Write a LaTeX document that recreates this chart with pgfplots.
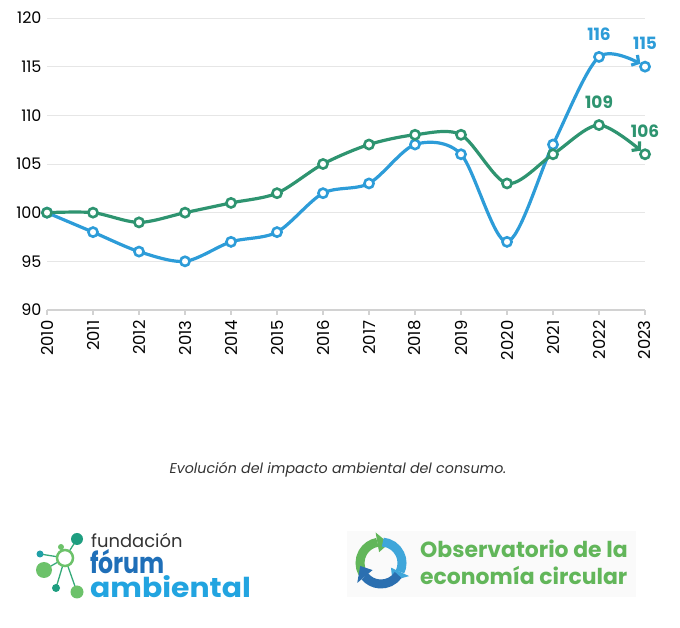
\documentclass[border=0pt]{standalone}
\usepackage{pgfplots}
\pgfplotsset{compat=1.18}
\usepackage{fontspec}
\setmainfont{Poppins}
\usetikzlibrary{arrows.meta}
\definecolor{cblue}{HTML}{2D9CD8}
\definecolor{cgreen}{HTML}{2E9470}
\definecolor{gridgray}{HTML}{E6E6E6}
\definecolor{axgray}{HTML}{D2D2D2}
\definecolor{fdark}{HTML}{333333}
\definecolor{fblue}{HTML}{1F6FB8}
\definecolor{flight}{HTML}{22A4E0}
\definecolor{fgreen}{HTML}{6CC26A}
\definecolor{fteal}{HTML}{1E9E80}
\definecolor{ogreen}{HTML}{62B65A}
\definecolor{oblue}{HTML}{2B6FB0}
\definecolor{olight}{HTML}{3FA6DA}
\begin{document}
\begin{tikzpicture}[x=1bp,y=1bp]
\useasboundingbox (0,0) rectangle (680,628);
\begin{axis}[
  at={(47bp,318bp)}, anchor=south west, scale only axis,
  width=598bp, height=292bp,
  xmin=2010, xmax=2023, ymin=90, ymax=120,
  xtick={2010,...,2023}, ytick={90,95,...,120},
  ymajorgrids, grid style={draw=gridgray, line width=0.9bp},
  axis x line*=bottom, axis y line*=left,
  x axis line style={-, draw=axgray, line width=1.3bp},
  y axis line style={draw=none},
  ytick style={draw=none},
  xtick style={draw=axgray, line width=1.2bp},
  xtick align=outside, major tick length=5bp,
  /pgf/number format/assume math mode=true,
  xticklabel style={/pgf/number format/1000 sep={}, rotate=90, anchor=east, font=\fontsize{16.5}{16.5}\selectfont, xshift=-2bp},
  yticklabel style={font=\fontsize{16}{16}\selectfont, anchor=east, xshift=-2bp},
  clip=false,
]
\addplot[cblue, line width=3.2bp, smooth, tension=0.5,
  mark=*, mark size=4.6bp, mark options={fill=white, draw=cblue, line width=2.6bp},
  -{Straight Barb[length=5bp,width=12bp]}, shorten >=5.5bp]
  coordinates {(2010,100)(2011,98)(2012,96)(2013,95)(2014,97)(2015,98)(2016,102)(2017,103)(2018,107)(2019,106)(2020,97)(2021,107)(2022,116)(2023,115)};
\addplot[cgreen, line width=3.2bp, smooth, tension=0.5,
  mark=*, mark size=4.6bp, mark options={fill=white, draw=cgreen, line width=2.6bp},
  -{Straight Barb[length=5bp,width=12bp]}, shorten >=5.5bp]
  coordinates {(2010,100)(2011,100)(2012,99)(2013,100)(2014,101)(2015,102)(2016,105)(2017,107)(2018,108)(2019,108)(2020,103)(2021,106)(2022,109)(2023,106)};
\node[cblue, font=\fontsize{17}{17}\selectfont\bfseries] at (axis cs:2022,116) [yshift=23bp] {116};
\node[cblue, font=\fontsize{17}{17}\selectfont\bfseries] at (axis cs:2023,115) [yshift=23bp] {115};
\node[cgreen, font=\fontsize{17}{17}\selectfont\bfseries] at (axis cs:2022,109) [yshift=23bp] {109};
\node[cgreen, font=\fontsize{17}{17}\selectfont\bfseries] at (axis cs:2023,106) [yshift=23bp] {106};
\end{axis}
% caption
\node[font=\fontsize{14.3}{14.3}\selectfont\itshape, text=fdark] at (338,158) {Evolución del impacto ambiental del consumo.};
% logo 1: molecule icon
\begin{scope}
\draw[fteal!70!fgreen, line width=1.3bp] (65,70) -- (77,89);
\draw[fteal!70!fgreen, line width=1.3bp] (65,70) -- (61,81);
\draw[fteal!70!fgreen, line width=1.3bp] (65,70) -- (40,74);
\draw[fteal!70!fgreen, line width=1.3bp] (65,70) -- (44,58);
\draw[fteal!70!fgreen, line width=1.3bp] (65,70) -- (56,40);
\draw[fteal!70!fgreen, line width=1.3bp] (65,70) -- (77,36);
\fill[fteal] (77,89) circle (6);
\fill[fgreen] (61,81) circle (3);
\fill[fteal!60!flight] (40,74) circle (3.5);
\fill[fgreen] (44,58) circle (8);
\fill[fteal] (56,40) circle (4);
\fill[fgreen] (77,36) circle (6.5);
\fill[white] (65,70) circle (8);
\draw[fgreen, line width=2.5bp] (65,70) circle (8);
\end{scope}
\node[anchor=base west, inner sep=0, text=fdark, font=\fontsize{18}{18}\selectfont] at (91,80) {fundación};
\node[anchor=base west, inner sep=0, font=\bfseries] at (90,30) {\rlap{\raisebox{24bp}{\fontsize{29}{29}\selectfont\color{fblue}\scalebox{0.82}[1]{fórum}}}{\fontsize{27.5}{27.5}\selectfont\color{flight}\scalebox{1.09}[1]{ambiental}}};
% logo 2
\fill[black!2] (347,31) rectangle (636,97);
\begin{scope}[shift={(381,65)}]
\draw[ogreen, line width=9bp] (210:21) arc (210:100:21);
\fill[ogreen] (100:31) -- (100:11) -- (68:21) -- cycle;
\draw[olight, line width=9bp] (85:21) arc (85:-25:21);
\fill[olight] (-25:31) -- (-25:11) -- (-57:21) -- cycle;
\draw[oblue, line width=9bp] (-35:21) arc (-35:-140:21);
\fill[oblue] (-140:31) -- (-140:11) -- (-172:21) -- cycle;
\end{scope}
\node[anchor=base west, inner sep=0, text=ogreen, font=\fontsize{22}{22}\selectfont\bfseries] at (420,70) {Observatorio de la};
\node[anchor=base west, inner sep=0, text=ogreen, font=\fontsize{22}{22}\selectfont\bfseries] at (420,43) {economía circular};
\end{tikzpicture}
\end{document}
